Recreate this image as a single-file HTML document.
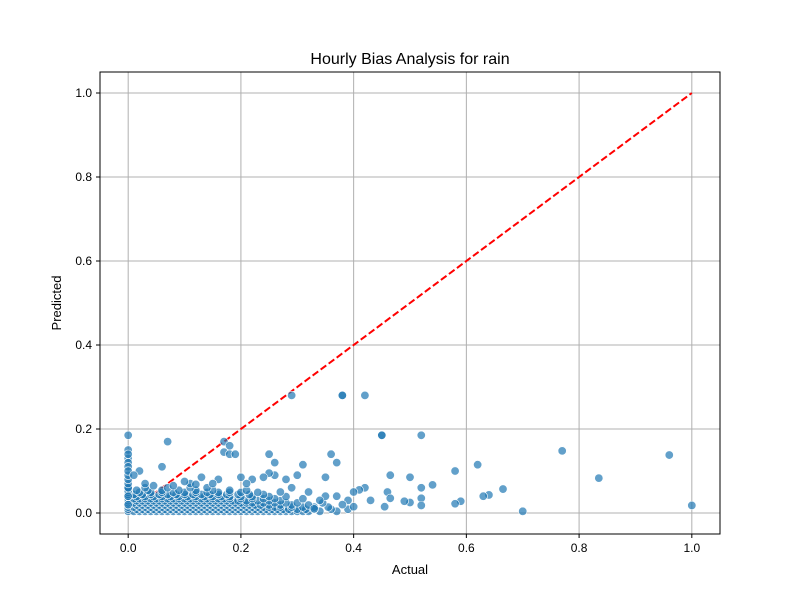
<!DOCTYPE html>
<html><head><meta charset="utf-8"><style>
body{margin:0;background:#fff;font-family:"Liberation Sans","DejaVu Sans",sans-serif}
</style></head><body>
<svg id="chart" width="800" height="600" xmlns="http://www.w3.org/2000/svg">
<rect width="800" height="600" fill="#fff"/>
<g id="grid"></g>
<g id="ticks"></g>
<line id="diag" stroke="red" stroke-width="2" stroke-dasharray="7,3"/>
<g id="points"></g>
<rect x="100" y="72" width="620" height="462" fill="none" stroke="#000" stroke-width="1"/>
<text x="410" y="64" text-anchor="middle" font-size="16">Hourly Bias Analysis for rain</text>
<text x="410" y="574" text-anchor="middle" font-size="13">Actual</text>
<text x="61" y="303" text-anchor="middle" font-size="13" transform="rotate(-90 61 303)">Predicted</text>
</svg>
<script>
const xTicks=[0,0.2,0.4,0.6,0.8,1.0];
const yTicks=[0,0.2,0.4,0.6,0.8,1.0];
const tickLabels=["0.0","0.2","0.4","0.6","0.8","1.0"];
const outX=[0,0,0,0,0,0,0.07,0.06,0.02,0.01,0.17,0.18,0.17,0.18,0.19,0.25,0.26,0.29,0.38,0.38,0.42,0.45,0.45,0.52,0.36,0.37,0.31,0.58,0.62,0.77,0.96,0.835,1.0,0.7,0.665,0.64,0.63,0.59,0.58,0.54,0.52,0.52,0.52,0.5,0.5,0.49,0.465,0.46,0.465,0.455,0.43,0.42,0.41,0.4,0.4,0.39,0.38,0.37,0.35,0.35,0.34,0.33,0.32,0.3,0.29,0.28,0.27,0.26,0.25,0.24,0.22,0.2,0.21,0.16,0.13,0.11,0.08,0.045,0.03,0.1,0.15,0.12];
const outY=[0.185,0.15,0.14,0.12,0.11,0.1,0.17,0.11,0.1,0.09,0.17,0.16,0.145,0.14,0.14,0.14,0.12,0.28,0.28,0.28,0.28,0.185,0.185,0.185,0.14,0.12,0.115,0.1,0.115,0.148,0.138,0.083,0.018,0.004,0.057,0.043,0.04,0.028,0.022,0.067,0.06,0.035,0.018,0.085,0.025,0.028,0.09,0.05,0.035,0.015,0.03,0.06,0.055,0.05,0.015,0.03,0.02,0.04,0.085,0.04,0.03,0.01,0.05,0.09,0.06,0.08,0.05,0.09,0.095,0.085,0.08,0.085,0.07,0.08,0.085,0.07,0.065,0.065,0.07,0.075,0.07,0.068];
const clusterY=[0.004,0.009,0.014,0.019,0.024,0.029,0.034,0.039,0.044,0.049,0.054,0.06];
const clusterX=[
[0,0.01,0.02,0.03,0.04,0.05,0.06,0.07,0.08,0.09,0.1,0.11,0.12,0.13,0.14,0.15,0.16,0.17,0.18,0.19,0.2,0.21,0.22,0.23,0.24,0.25,0.26,0.27,0.28,0.29,0.3,0.31,0.32,0.34,0.37],
[0,0.015,0.025,0.035,0.045,0.055,0.065,0.075,0.085,0.095,0.105,0.115,0.125,0.135,0.145,0.155,0.165,0.175,0.185,0.195,0.205,0.215,0.225,0.235,0.245,0.255,0.265,0.275,0.285,0.3,0.315,0.33,0.36,0.39],
[0,0.01,0.02,0.03,0.04,0.05,0.06,0.07,0.08,0.09,0.1,0.11,0.12,0.13,0.14,0.15,0.16,0.17,0.18,0.19,0.2,0.21,0.22,0.23,0.24,0.25,0.26,0.27,0.29,0.31,0.33,0.355],
[0,0.015,0.025,0.035,0.045,0.055,0.065,0.075,0.085,0.095,0.105,0.115,0.125,0.135,0.145,0.155,0.165,0.175,0.185,0.195,0.205,0.215,0.225,0.235,0.25,0.27,0.29,0.32],
[0,0.01,0.02,0.03,0.04,0.05,0.06,0.07,0.08,0.09,0.1,0.11,0.12,0.13,0.14,0.15,0.16,0.17,0.18,0.19,0.2,0.21,0.22,0.24,0.26,0.28,0.3,0.345],
[0,0.015,0.025,0.035,0.045,0.055,0.065,0.075,0.085,0.095,0.105,0.115,0.125,0.135,0.145,0.155,0.165,0.175,0.185,0.195,0.21,0.23,0.25,0.27],
[0,0.01,0.02,0.03,0.04,0.05,0.06,0.07,0.08,0.09,0.1,0.11,0.12,0.13,0.14,0.15,0.16,0.17,0.18,0.2,0.22,0.24,0.26,0.31],
[0,0.015,0.03,0.045,0.06,0.075,0.09,0.105,0.12,0.135,0.15,0.165,0.18,0.2,0.22,0.25,0.28],
[0,0.01,0.025,0.04,0.055,0.07,0.085,0.1,0.115,0.13,0.145,0.16,0.175,0.195,0.215,0.24],
[0,0.02,0.04,0.06,0.08,0.1,0.12,0.14,0.16,0.18,0.2,0.23],
[0,0.015,0.035,0.06,0.09,0.12,0.15,0.18,0.21],
[0,0.03,0.07,0.11,0.14]];
const colY=[0.02,0.04,0.06,0.07,0.08,0.09,0.13];
const NS="http://www.w3.org/2000/svg";
const sx=v=>100+(v+0.05)/1.1*620, sy=v=>534-(v+0.05)/1.1*462;
const mk=(t,a,p)=>{const e=document.createElementNS(NS,t);for(const k in a)e.setAttribute(k,a[k]);p.appendChild(e);return e;};
const grid=document.getElementById('grid'),ticks=document.getElementById('ticks'),pts=document.getElementById('points');
xTicks.forEach((v,i)=>{const x=sx(v);
 const g=mk('line',{x1:x,x2:x,y1:72,y2:534,stroke:'#b0b0b0','stroke-width':1},grid);
 
 mk('line',{x1:x,x2:x,y1:534,y2:538,stroke:'#000'},ticks);
 const t=mk('text',{x:x,y:552,'text-anchor':'middle','font-size':12},ticks);t.textContent=tickLabels[i];
 });
yTicks.forEach((v,i)=>{const y=sy(v);
 const g=mk('line',{x1:100,x2:720,y1:y,y2:y,stroke:'#b0b0b0','stroke-width':1},grid);
 
 mk('line',{x1:96,x2:100,y1:y,y2:y,stroke:'#000'},ticks);
 const t=mk('text',{x:92,y:y+4,'text-anchor':'end','font-size':12},ticks);t.textContent=tickLabels[i];
 });
const d=document.getElementById('diag');
d.setAttribute('x1',sx(0));d.setAttribute('y1',sy(0));d.setAttribute('x2',sx(1));d.setAttribute('y2',sy(1));
function dot(x,y){const c=mk('circle',{cx:sx(x),cy:sy(y),r:4.2,fill:'#1f77b4','fill-opacity':0.7,stroke:'#fff','stroke-width':0.6},pts);
 }
clusterX.forEach((row,j)=>row.forEach(x=>dot(x,clusterY[j])));
colY.forEach(y=>dot(0,y));
outX.forEach((x,i)=>dot(x,outY[i]));
</script>
</body></html>
